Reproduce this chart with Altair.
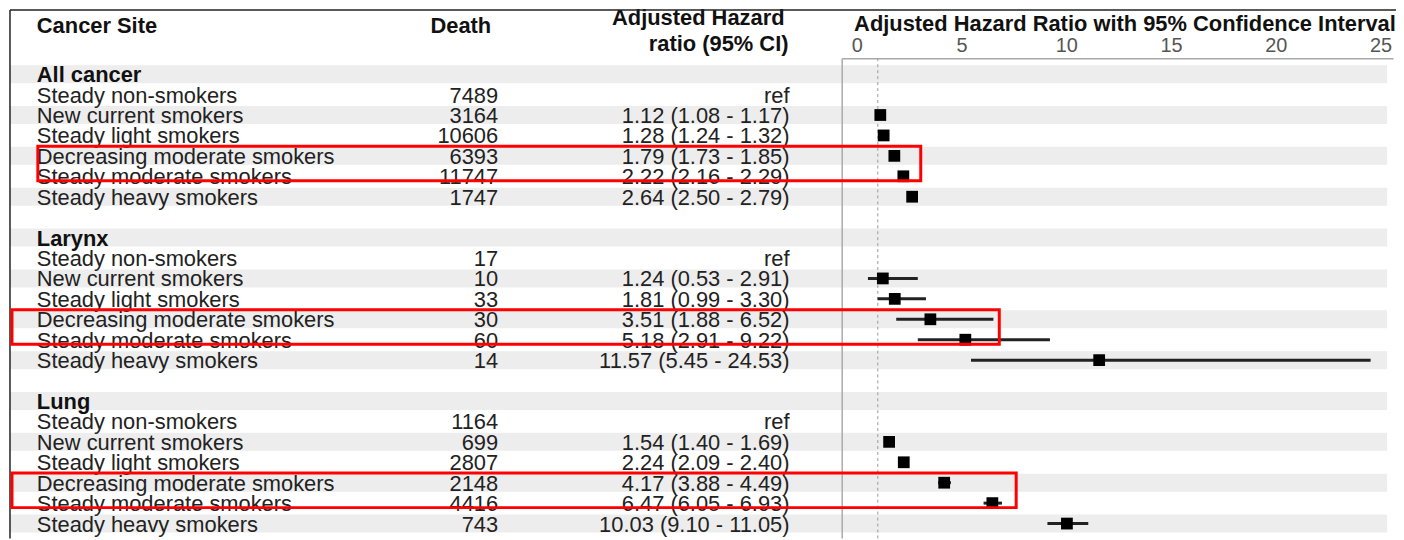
import altair as alt
import pandas as pd

# ---------------- data ----------------
groups = ["All cancer", "Larynx", "Lung"]
categories = [
    "Steady non-smokers",
    "New current smokers",
    "Steady light smokers",
    "Decreasing moderate smokers",
    "Steady moderate smokers",
    "Steady heavy smokers",
]

deaths_all = [7489, 3164, 10606, 6393, 11747, 1747]
deaths_larynx = [17, 10, 33, 30, 60, 14]
deaths_lung = [1164, 699, 2807, 2148, 4416, 743]

hr_all = [None, 1.12, 1.28, 1.79, 2.22, 2.64]
lo_all = [None, 1.08, 1.24, 1.73, 2.16, 2.50]
hi_all = [None, 1.17, 1.32, 1.85, 2.29, 2.79]

hr_larynx = [None, 1.24, 1.81, 3.51, 5.18, 11.57]
lo_larynx = [None, 0.53, 0.99, 1.88, 2.91, 5.45]
hi_larynx = [None, 2.91, 3.30, 6.52, 9.22, 24.53]

hr_lung = [None, 1.54, 2.24, 4.17, 6.47, 10.03]
lo_lung = [None, 1.40, 2.09, 3.88, 6.05, 9.10]
hi_lung = [None, 1.69, 2.40, 4.49, 6.93, 11.05]

x_ticks = [0, 5, 10, 15, 20, 25]
x_domain = [-0.7, 25.6]
ref_value = 1

col_headers = ["Cancer Site", "Death", "Adjusted Hazard", "ratio (95% CI)"]
plot_title = "Adjusted Hazard Ratio with 95% Confidence Interval"
highlight = "Decreasing moderate smokers"

# ---------------- build table ----------------
series = {
    "All cancer": (deaths_all, hr_all, lo_all, hi_all),
    "Larynx": (deaths_larynx, hr_larynx, lo_larynx, hi_larynx),
    "Lung": (deaths_lung, hr_lung, lo_lung, hi_lung),
}
recs = []
r = 0
for gi, g in enumerate(groups):
    recs.append(dict(row=r, label=g, bold=True, death="", hrtxt="", hr=None, lo=None, hi=None))
    r += 1
    d, h, l, u = series[g]
    for i, c in enumerate(categories):
        txt = "ref" if h[i] is None else f"{h[i]:.2f} ({l[i]:.2f} - {u[i]:.2f})"
        recs.append(dict(row=r, label=c, bold=False, death=str(d[i]), hrtxt=txt,
                         hr=h[i], lo=l[i], hi=u[i]))
        r += 1
    if gi < len(groups) - 1:
        recs.append(dict(row=r, label="", bold=False, death="", hrtxt="", hr=None, lo=None, hi=None))
        r += 1
df = pd.DataFrame(recs)
nrows = len(df)
df["top"] = df["row"] - 0.44
df["bottom"] = df["row"] + 0.44
bands = df[df["row"] % 2 == 0]
est = df[df["hr"].notna()]
heads = df[df["bold"]]
items = df[(~df["bold"]) & (df["label"] != "")]

# ---------------- layout ----------------
FONT = "Liberation Sans"
FS = 22
TXT = "#222222"
W, H = 1396, 483
yscale = alt.Scale(domain=[0, nrows - 1], range=[16, 468])
xscale = alt.Scale(domain=x_domain, range=[839, 1393], nice=False, zero=False)
xaxis = alt.Axis(orient="top", values=x_ticks, ticks=False, grid=False, title=None,
                 labelFontSize=20, labelColor="#555555", labelFont=FONT,
                 labelPadding=3, labelFlush=False, labelOverlap=False,
                 domainColor="#aaaaaa", domainWidth=1.5)
Y = alt.Y("row:Q", scale=yscale, axis=None)

band_layer = alt.Chart(bands).mark_rect(color="#ededed").encode(
    x=alt.value(2), x2=alt.value(1387),
    y=alt.Y("top:Q", scale=yscale, axis=None), y2="bottom:Q")

frame_left = alt.Chart(df.head(1)).mark_rule(color="#aaaaaa", strokeWidth=1.5).encode(
    x=alt.X(datum=x_domain[0], scale=xscale, axis=xaxis))

ref_line = alt.Chart(df.head(1)).mark_rule(color="#999999", strokeWidth=1, strokeDash=[3, 3]).encode(
    x=alt.X(datum=ref_value, scale=xscale, axis=xaxis))

ci = alt.Chart(est).mark_rule(color="#222222", strokeWidth=3).encode(
    x=alt.X("lo:Q", scale=xscale, axis=xaxis), x2="hi:Q", y=Y)

sq = alt.Chart(est).mark_square(size=140, color="black", opacity=1).encode(
    x=alt.X("hr:Q", scale=xscale, axis=xaxis), y=Y)

head_txt = alt.Chart(heads).mark_text(align="left", baseline="middle", font=FONT, fontSize=FS,
                                      fontWeight="bold", color="#111111", dy=1).encode(
    x=alt.value(29), y=Y, text="label:N")
item_txt = alt.Chart(items).mark_text(align="left", baseline="middle", font=FONT, fontSize=FS,
                                      color=TXT, dy=1).encode(
    x=alt.value(29), y=Y, text="label:N")
death_txt = alt.Chart(items).mark_text(align="right", baseline="middle", font=FONT, fontSize=FS,
                                       color=TXT, dy=1).encode(
    x=alt.value(493), y=Y, text="death:N")
hr_txt = alt.Chart(items).mark_text(align="right", baseline="middle", font=FONT, fontSize=FS,
                                    color=TXT, dy=1).encode(
    x=alt.value(786), y=Y, text="hrtxt:N")

def header(text, x, y, align):
    return alt.Chart(pd.DataFrame({"t": [text]})).mark_text(
        align=align, baseline="middle", font=FONT, fontSize=FS, fontWeight="bold",
        color="#111111").encode(x=alt.value(x), y=alt.value(y), text="t:N")

hdrs = [
    header(col_headers[0], 29, -32, "left"),
    header(col_headers[1], 486, -32, "right"),
    header(col_headers[2], 781, -40, "right"),
    header(col_headers[3], 785, -14, "right"),
    header(plot_title, 851, -34, "left"),
]

one = pd.DataFrame({"a": [0]})
border_top = alt.Chart(one).mark_rule(color="#222222", strokeWidth=1.5).encode(
    x=alt.value(2), x2=alt.value(W), y=alt.value(-48.5))
border_left = alt.Chart(one).mark_rule(color="#222222", strokeWidth=1.5).encode(
    x=alt.value(2), y=alt.value(-48.5), y2=alt.value(H))

# red highlight boxes around the decreasing/steady moderate rows
hl_rows = df[df["label"] == highlight]["row"].tolist()
box_left = [30, 4, 4]
box_right = [918, 997, 1014]
boxes = []
for i, rr in enumerate(hl_rows):
    bd = pd.DataFrame({"top": [rr - 0.47], "bottom": [rr + 1.22]})
    boxes.append(alt.Chart(bd).mark_rect(fillOpacity=0, stroke="#ff0000", strokeWidth=3).encode(
        x=alt.value(box_left[i]), x2=alt.value(box_right[i]),
        y=alt.Y("top:Q", scale=yscale, axis=None), y2="bottom:Q"))

chart = alt.layer(
    band_layer, frame_left, ref_line, ci, sq,
    head_txt, item_txt, death_txt, hr_txt,
    *hdrs, border_top, border_left, *boxes,
).properties(
    width=W, height=H,
    autosize=alt.AutoSizeParams(type="none"),
    padding={"left": 0, "top": 49, "right": 0, "bottom": 0},
    background="white",
).configure_view(stroke=None)

chart.save("out.html", embed_options={"renderer": "svg", "actions": False})
